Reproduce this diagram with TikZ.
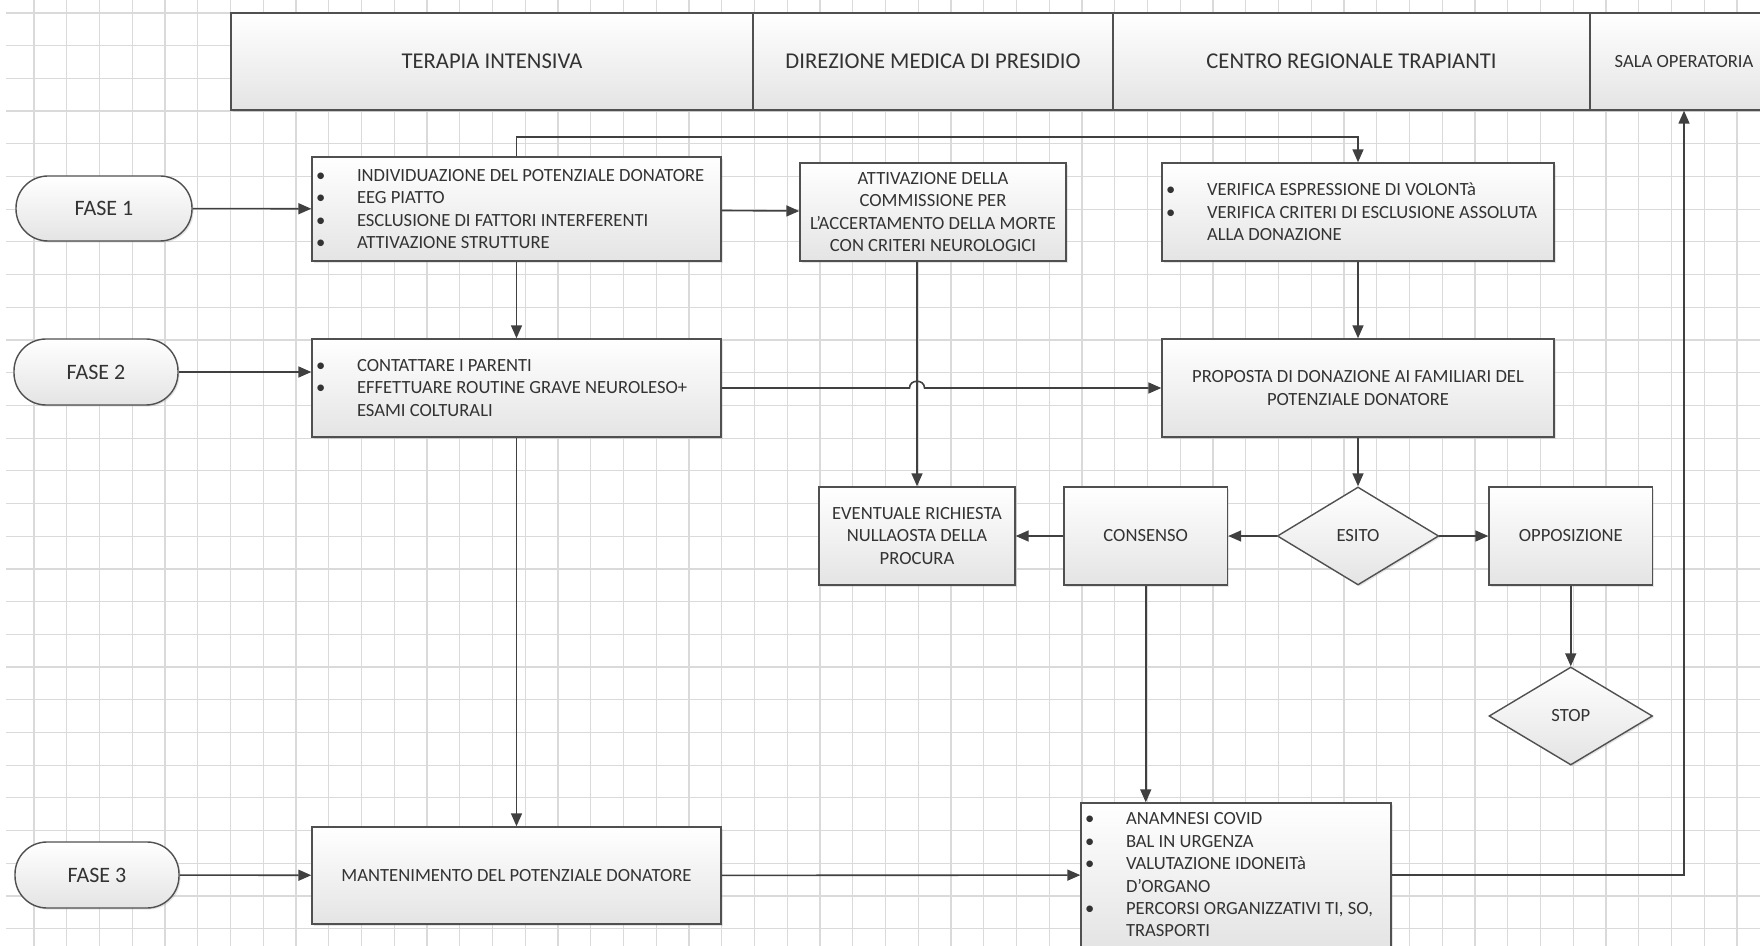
\documentclass[tikz,border=0pt]{standalone}
\usepackage{fontspec}
\setmainfont{Carlito}
\usetikzlibrary{shapes.geometric,arrows.meta,positioning,calc,shadows}
\definecolor{linegray}{RGB}{64,64,64}
\definecolor{boxgray}{RGB}{80,80,80}
\definecolor{textgray}{RGB}{51,51,51}
\definecolor{gridgray}{RGB}{218,218,218}
\definecolor{shadegray}{RGB}{228,228,228}

\newcommand{\blt}[1]{\mbox{\makebox[20.5pt][l]{\textbullet}#1}}
\newcommand{\cnt}[1]{\mbox{\hspace*{20.5pt}#1}}

\begin{document}
\begin{tikzpicture}[
        x=0.5pt, y=-0.5pt,
        gridline/.style={draw=gridgray, line width=0.6pt},
        boxbase/.style={draw=boxgray, line width=0.7pt, top color=white, bottom color=shadegray, text=textgray, inner sep=2pt, font=\fontsize{9.3}{11.2}\selectfont, drop shadow={opacity=0.2, shadow xshift=0.8pt, shadow yshift=-0.8pt}},
        lane/.style={boxbase, minimum height=48.5pt, font=\fontsize{11.3}{13.5}\selectfont},
        phase/.style={boxbase, rounded corners=16pt, minimum height=33pt, font=\fontsize{11}{13}\selectfont},
        task/.style={boxbase, minimum height=49pt, align=center},
        bullets/.style={boxbase, minimum height=49pt, align=flush left},
        decision/.style={boxbase, diamond, aspect=1.65, inner sep=0pt, minimum width=80.75pt, minimum height=49pt},
        arrow/.style={-{Triangle[length=6.5pt,width=5.5pt]}, draw=linegray, line width=0.8pt}
    ]
        \useasboundingbox (0,0) rectangle (1760,946);
        \clip (0,0) rectangle (1760,946);
        \fill[white] (0,0) rectangle (1760,946);
        \foreach \k in {1,...,53} \draw[gridline] (1.2+32.75*\k,0) -- (1.2+32.75*\k,946);
        \foreach \k in {0,...,28} \draw[gridline] (6,13+32.7*\k) -- (1760,13+32.7*\k);

        \node[lane, minimum width=261pt] (hti) at (492,61.5) {TERAPIA INTENSIVA};
        \node[lane, minimum width=180pt] (hdmp) at (933,61.5) {DIREZIONE MEDICA DI PRESIDIO};
        \node[lane, minimum width=238.5pt] (hcrt) at (1351.5,61.5) {CENTRO REGIONALE TRAPIANTI};
        \node[lane, minimum width=94pt, font=\fontsize{9.3}{11.2}\selectfont] (hso) at (1684,61.5) {SALA OPERATORIA};

        \node[phase, minimum width=88pt, minimum height=32.5pt] (fase1) at (104,208.5) {FASE 1};
        \node[phase, minimum width=82pt] (fase2) at (96,372) {FASE 2};
        \node[phase, minimum width=82pt] (fase3) at (97,875) {FASE 3};

        \node[bullets, minimum width=204.5pt, minimum height=52pt, text width=200.5pt] (ident) at (516.5,209) {\blt{INDIVIDUAZIONE DEL POTENZIALE DONATORE}\\ \blt{EEG PIATTO}\\ \blt{ESCLUSIONE DI FATTORI INTERFERENTI}\\ \blt{ATTIVAZIONE STRUTTURE}};
        \node[bullets, minimum width=204.5pt, text width=200.5pt] (contact) at (516.5,388) {\blt{CONTATTARE I PARENTI}\\ \blt{EFFETTUARE ROUTINE GRAVE NEUROLESO+}\\ \cnt{ESAMI COLTURALI}};
        \node[task, minimum width=204.5pt, minimum height=48.5pt] (maint) at (516.5,875.5) {MANTENIMENTO DEL POTENZIALE DONATORE};

        \node[task, minimum width=133pt] (commission) at (933,212) {ATTIVAZIONE DELLA\\COMMISSIONE PER\\L’ACCERTAMENTO DELLA MORTE\\CON CRITERI NEUROLOGICI};
        \node[bullets, minimum width=196pt, text width=192pt] (will) at (1358,212) {\blt{VERIFICA ESPRESSIONE DI VOLONTà}\\ \blt{VERIFICA CRITERI DI ESCLUSIONE ASSOLUTA}\\ \cnt{ALLA DONAZIONE}};
        \node[task, minimum width=196pt] (proposal) at (1358,388) {PROPOSTA DI DONAZIONE AI FAMILIARI DEL\\POTENZIALE DONATORE};

        \node[task, minimum width=98pt] (procura) at (917,536) {EVENTUALE RICHIESTA\\NULLAOSTA DELLA\\PROCURA};
        \node[task, minimum width=81.75pt] (consent) at (1145.75,536) {CONSENSO};
        \node[decision] (outcome) at (1358,536) {ESITO};
        \node[task, minimum width=81.75pt] (oppos) at (1570.75,536) {OPPOSIZIONE};
        \node[decision, minimum width=81.75pt] (stop) at (1570.75,716) {STOP};
        \node[bullets, minimum width=155pt, minimum height=72pt, text width=151pt] (checks) at (1236,875) {\blt{ANAMNESI COVID}\\ \blt{BAL IN URGENZA}\\ \blt{VALUTAZIONE IDONEITà}\\ \cnt{D’ORGANO}\\ \blt{PERCORSI ORGANIZZATIVI TI, SO,}\\ \cnt{TRASPORTI}};

        \coordinate (jumpl) at ($(procura.north |- contact.east)+(-7.5,0)$);
        \coordinate (jumpr) at ($(procura.north |- contact.east)+(7.5,0)$);

        \draw[arrow] (fase1) -- (ident);
        \draw[arrow] (fase2.east) -- (fase2.east -| contact.west);
        \draw[arrow] (fase3) -- (maint);
        \draw[arrow] (ident) -- (commission);
        \draw[arrow] (ident.north) -- ++(0,-19) -| (will.north);
        \draw[arrow] (ident) -- (contact);
        \draw[arrow] (contact) -- (maint);
        \draw[arrow] (commission.south -| procura.north) -- (procura.north);
        \draw[arrow] (contact.east) -- (jumpl) .. controls +(0,-9) and +(0,-9) .. (jumpr) -- (proposal.west);
        \draw[arrow] (will) -- (proposal);
        \draw[arrow] (proposal) -- (outcome);
        \draw[arrow] (outcome) -- (consent);
        \draw[arrow] (outcome) -- (oppos);
        \draw[arrow] (consent) -- (procura);
        \draw[arrow] (oppos) -- (stop);
        \draw[arrow] (consent.south) -- (consent.south |- checks.north);
        \draw[arrow] (maint) -- (checks);
        \draw[arrow] (checks.east) -| (hso.south);

    \end{tikzpicture}
\end{document}
